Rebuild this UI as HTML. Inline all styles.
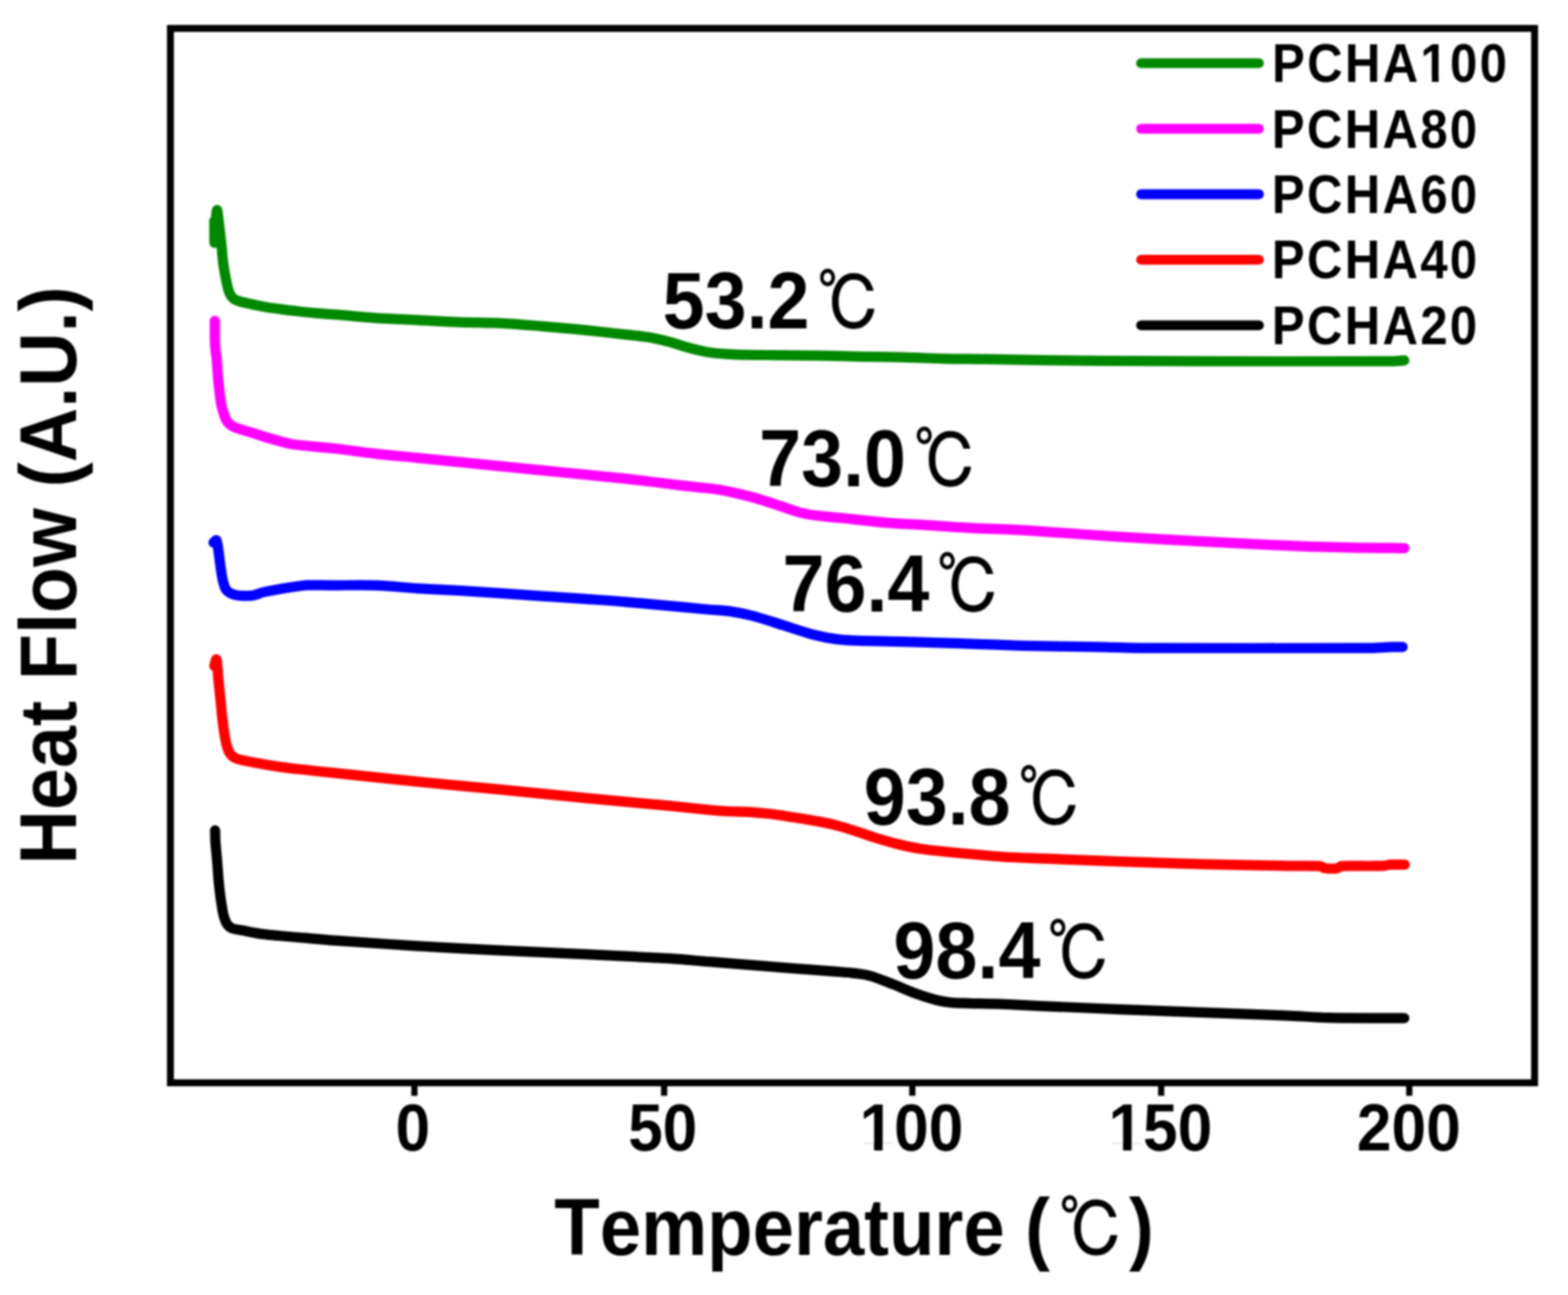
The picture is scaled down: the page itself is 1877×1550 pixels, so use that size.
<!DOCTYPE html>
<html lang="en">
<head>
<meta charset="utf-8">
<title>Heat Flow (A.U.) vs Temperature (℃)</title>
<style>
html,body{margin:0;padding:0;background:#fff;}
body{width:1877px;height:1550px;overflow:hidden;}
svg{display:block;filter:blur(0.8px);}
text{font-family:"Liberation Sans","Noto Sans CJK KR",sans-serif;font-weight:700;fill:#000;font-kerning:none;}
.c{font-family:"IPAGothic","Noto Sans CJK JP",sans-serif;font-weight:400;stroke:#000;stroke-width:1.1px;stroke-linejoin:round;}
</style>
</head>
<body>
<svg width="1877" height="1550" viewBox="0 0 1877 1550">
<rect x="0" y="0" width="1877" height="1550" fill="#fff"/>
<g id="curves">
<path d="M257.5 993.9 C257.6 996.2 257.5 1002.2 257.9 1007.8 C258.3 1013.7 259.2 1022.0 259.8 1029.1 C260.4 1036.2 260.9 1044.2 261.4 1050.4 C261.9 1056.6 262.4 1061.1 263.0 1066.4 C263.6 1071.7 264.4 1077.4 265.2 1082.4 C266.0 1087.4 266.7 1092.3 267.8 1096.2 C268.9 1100.1 269.9 1103.3 271.6 1105.8 C273.3 1108.3 274.8 1109.9 277.9 1111.1 C281.6 1112.5 287.7 1113.1 293.9 1114.3 C300.1 1115.5 308.1 1117.1 315.2 1118.1 C322.3 1119.1 328.0 1119.4 336.6 1120.2 C345.5 1121.0 357.9 1122.0 368.5 1122.9 C379.1 1123.8 387.4 1124.7 400.0 1125.6 C421.9 1127.2 466.8 1130.3 500.2 1132.3 C533.6 1134.3 566.9 1136.0 600.3 1137.6 C633.7 1139.2 667.1 1140.5 700.5 1142.1 C733.9 1143.7 775.7 1145.7 800.6 1147.2 C820.4 1148.4 833.4 1149.9 850.0 1151.2 C866.6 1152.5 883.3 1153.9 900.0 1155.2 C916.7 1156.5 933.5 1157.8 950.2 1159.1 C966.9 1160.4 987.7 1161.8 1000.2 1162.8 C1010.3 1163.6 1018.1 1164.1 1025.3 1165.1 C1032.5 1166.0 1036.3 1166.4 1043.3 1168.5 C1050.7 1170.7 1061.0 1175.0 1069.9 1178.4 C1078.8 1181.9 1087.7 1186.0 1096.6 1189.2 C1105.5 1192.4 1116.0 1195.7 1123.2 1197.5 C1129.8 1199.2 1133.9 1199.5 1140.0 1200.1 C1146.1 1200.6 1152.0 1200.6 1160.0 1200.8 C1170.1 1201.1 1185.4 1201.2 1200.5 1201.8 C1215.6 1202.4 1230.6 1203.4 1250.6 1204.3 C1273.9 1205.3 1308.6 1206.8 1340.2 1208.1 C1371.8 1209.4 1406.9 1210.7 1440.3 1211.9 C1473.7 1213.2 1515.5 1214.6 1540.5 1215.6 C1560.5 1216.4 1570.5 1217.7 1590.5 1218.1 C1613.9 1218.6 1665.9 1218.5 1681.0 1218.6" stroke="#000" stroke-width="12.2" fill="none" stroke-linecap="round" stroke-linejoin="round"/>
<path d="M256.6 797.1 C257.1 795.9 258.5 787.0 259.3 789.7 C260.1 792.4 260.7 805.7 261.4 813.1 C262.1 820.5 262.9 827.3 263.6 834.4 C264.3 841.5 264.9 848.6 265.7 855.7 C266.5 862.8 267.4 870.9 268.4 877.1 C269.4 883.3 270.4 888.8 271.6 893.0 C272.8 897.0 273.9 900.1 275.8 902.6 C277.8 905.1 279.8 906.8 283.3 908.0 C288.1 909.7 296.0 911.2 304.6 912.8 C313.5 914.5 326.0 916.6 336.6 918.1 C347.2 919.6 357.9 920.6 368.5 921.8 C379.1 923.0 387.4 923.8 400.0 925.1 C421.9 927.4 466.8 932.3 500.2 935.6 C533.6 938.9 566.9 941.9 600.3 945.1 C633.7 948.4 667.1 951.9 700.5 955.1 C733.9 958.3 775.7 962.0 800.6 964.4 C820.4 966.3 838.4 968.4 850.0 969.5 C858.0 970.3 862.0 970.6 870.0 971.0 C878.3 971.4 890.8 971.5 900.0 972.1 C909.2 972.7 916.6 973.5 925.0 974.5 C933.4 975.5 941.8 977.0 950.2 978.3 C958.6 979.6 966.9 980.8 975.2 982.4 C983.5 984.0 991.9 985.6 1000.2 987.7 C1008.6 989.8 1016.9 992.5 1025.3 995.1 C1033.6 997.7 1041.9 1000.9 1050.3 1003.5 C1058.7 1006.1 1067.1 1008.5 1075.4 1010.5 C1083.8 1012.5 1090.3 1014.2 1100.4 1015.7 C1112.9 1017.5 1133.8 1019.7 1150.5 1021.3 C1167.2 1022.9 1183.8 1024.4 1200.5 1025.5 C1217.2 1026.6 1230.6 1026.9 1250.6 1027.7 C1273.9 1028.6 1308.6 1030.0 1340.2 1031.1 C1371.8 1032.2 1406.9 1033.5 1440.3 1034.4 C1473.7 1035.3 1517.2 1035.9 1540.5 1036.3 C1556.3 1036.6 1572.3 1036.2 1580.0 1036.7 C1582.8 1036.9 1583.7 1038.9 1586.5 1039.3 C1589.9 1039.7 1597.2 1039.8 1600.5 1039.3 C1602.9 1039.0 1603.6 1036.8 1606.0 1036.6 C1612.6 1036.1 1631.3 1036.6 1640.0 1036.5 C1647.2 1036.4 1654.0 1036.4 1658.0 1036.1 C1660.4 1035.9 1661.6 1035.0 1664.0 1034.9 C1667.9 1034.7 1678.6 1034.9 1681.5 1034.9" stroke="#ff0000" stroke-width="12.2" fill="none" stroke-linecap="round" stroke-linejoin="round"/>
<path d="M255.6 649.3 C256.2 648.9 258.6 645.5 259.3 647.1 C260.4 649.4 261.2 657.8 262.0 663.1 C262.8 668.4 263.3 673.8 264.1 679.1 C264.9 684.4 265.7 690.7 266.8 695.1 C267.9 699.5 269.0 703.2 270.5 705.7 C271.9 708.0 273.3 708.8 275.8 710.0 C278.3 711.2 281.4 712.3 285.4 712.7 C289.8 713.2 297.5 713.3 302.5 712.7 C307.5 712.1 310.0 710.1 315.2 708.9 C320.9 707.6 329.5 705.9 336.6 704.7 C343.7 703.5 352.6 702.2 357.9 701.5 C362.1 700.9 364.2 700.5 368.5 700.4 C375.5 700.2 387.4 700.6 400.0 700.6 C413.6 700.6 433.3 700.0 450.0 700.6 C466.7 701.2 483.5 703.2 500.2 704.3 C516.9 705.3 533.5 705.9 550.2 706.9 C566.9 707.9 583.6 709.0 600.3 710.1 C617.0 711.2 633.7 712.5 650.4 713.6 C667.1 714.7 683.8 715.7 700.5 716.9 C717.2 718.1 733.8 719.2 750.5 720.6 C767.2 722.0 784.0 723.6 800.6 725.1 C817.2 726.6 837.6 728.6 850.0 729.7 C860.0 730.6 866.7 730.7 875.0 731.9 C883.3 733.1 891.6 734.8 900.0 736.9 C908.4 739.0 916.7 741.7 925.1 744.3 C933.5 746.9 941.9 749.9 950.2 752.5 C958.6 755.1 966.9 757.9 975.2 760.0 C983.5 762.1 992.4 763.8 1000.2 764.9 C1008.0 766.0 1013.6 766.3 1022.0 766.7 C1030.3 767.1 1039.0 767.0 1050.3 767.3 C1063.4 767.6 1083.7 768.1 1100.4 768.6 C1117.1 769.1 1130.5 769.4 1150.5 770.1 C1171.4 770.8 1198.2 772.2 1225.6 772.9 C1253.0 773.6 1291.8 773.9 1315.0 774.4 C1335.0 774.8 1345.0 775.5 1365.0 775.6 C1419.3 775.8 1590.5 775.8 1640.6 775.6 C1650.6 775.6 1659.2 774.6 1665.6 774.4 C1671.0 774.2 1676.8 774.4 1679.0 774.4" stroke="#0000ff" stroke-width="12.2" fill="none" stroke-linecap="round" stroke-linejoin="round"/>
<path d="M257.2 384.1 C257.2 389.0 257.1 405.9 257.5 413.5 C257.8 419.9 258.7 423.2 259.3 429.4 C259.9 435.6 260.4 444.5 260.9 450.7 C261.4 456.9 261.9 461.4 262.5 466.7 C263.1 472.0 263.8 478.2 264.6 482.7 C265.4 487.0 266.2 490.0 267.3 493.4 C268.4 496.8 269.4 500.4 271.0 503.0 C272.6 505.6 274.5 507.6 276.9 509.3 C279.3 511.0 281.9 511.9 285.4 513.1 C290.0 514.7 297.9 516.8 304.6 518.9 C311.4 521.0 318.3 523.4 325.9 525.5 C333.5 527.6 340.1 530.3 350.0 531.8 C362.4 533.7 383.5 534.9 400.2 536.8 C416.9 538.7 433.5 541.2 450.2 543.1 C466.9 545.0 483.6 546.4 500.3 548.1 C517.0 549.8 533.7 551.4 550.4 553.1 C567.1 554.8 583.8 556.4 600.5 558.1 C617.2 559.8 633.8 561.4 650.5 563.1 C667.2 564.8 682.4 566.2 700.6 568.1 C718.9 570.0 741.8 572.2 760.0 574.3 C778.2 576.3 797.5 578.9 810.0 580.4 C820.0 581.6 826.6 582.1 835.0 583.1 C843.4 584.1 851.8 584.7 860.2 586.1 C868.6 587.5 876.9 589.3 885.2 591.3 C893.5 593.2 901.9 595.3 910.2 597.8 C918.6 600.3 926.9 603.4 935.3 606.1 C943.6 608.8 951.9 612.1 960.3 614.1 C968.6 616.1 977.0 616.9 985.4 617.9 C993.8 618.9 1000.4 619.3 1010.4 620.3 C1022.9 621.6 1043.8 624.2 1060.5 625.6 C1077.2 627.0 1093.8 627.6 1110.5 628.6 C1127.2 629.6 1140.7 630.9 1160.6 631.9 C1180.5 632.9 1202.3 633.2 1230.0 634.8 C1258.3 636.5 1296.8 639.8 1330.2 641.9 C1363.6 644.0 1396.9 645.8 1430.3 647.6 C1463.7 649.4 1501.3 651.4 1530.5 652.6 C1559.7 653.9 1580.5 654.5 1605.6 655.1 C1630.7 655.7 1668.4 655.9 1681.0 656.1" stroke="#ff00ff" stroke-width="12.2" fill="none" stroke-linecap="round" stroke-linejoin="round"/>
<path d="M256.5 264.5 C256.6 268.8 256.5 290.8 256.8 290.5 C257.1 290.2 258.0 269.0 258.5 262.5 C258.9 258.1 259.3 250.2 260.0 251.5 C260.7 252.8 261.6 263.3 262.5 270.5 C263.4 277.7 264.4 287.0 265.2 294.5 C266.0 302.0 266.3 308.6 267.3 315.7 C268.3 322.8 269.8 331.1 271.0 337.0 C272.2 342.6 273.1 347.3 274.8 350.9 C276.4 354.4 277.8 356.5 281.0 358.4 C284.2 360.3 288.7 361.2 294.0 362.5 C299.7 363.9 308.1 365.6 315.2 366.9 C322.3 368.2 329.5 369.1 336.6 370.1 C343.7 371.1 350.8 371.9 357.9 372.7 C365.0 373.5 372.2 374.3 379.2 374.9 C386.2 375.5 391.7 375.6 400.0 376.3 C411.8 377.2 433.3 379.5 450.0 380.6 C466.7 381.7 483.4 382.3 500.1 383.1 C516.8 383.9 533.5 385.0 550.2 385.6 C566.9 386.2 583.6 386.0 600.3 386.8 C617.0 387.6 633.7 389.2 650.4 390.6 C667.1 392.0 683.7 393.4 700.4 395.1 C717.1 396.8 738.0 399.2 750.5 400.6 C760.5 401.7 767.2 402.2 775.6 403.6 C784.0 405.0 792.3 406.9 800.6 409.0 C808.9 411.1 817.2 414.3 825.6 416.5 C834.0 418.7 841.6 420.7 850.7 422.0 C859.8 423.3 868.4 423.8 880.2 424.3 C893.5 424.8 913.5 424.9 930.2 425.1 C946.9 425.3 963.6 425.3 980.3 425.6 C997.0 425.9 1013.7 426.5 1030.4 426.8 C1047.1 427.1 1063.7 427.2 1080.4 427.6 C1097.1 428.0 1113.8 429.0 1130.5 429.4 C1147.2 429.8 1160.7 429.6 1180.6 429.9 C1200.5 430.2 1227.6 430.8 1250.0 431.1 C1272.4 431.4 1289.0 431.7 1315.0 431.9 C1346.7 432.1 1390.0 432.3 1440.0 432.4 C1498.4 432.5 1625.4 432.6 1665.6 432.4 C1671.8 432.4 1678.4 431.6 1681.0 431.4" stroke="#008800" stroke-width="12.2" fill="none" stroke-linecap="round" stroke-linejoin="round"/>
</g>
<g id="legend">
<line x1="1366" y1="75.7" x2="1507" y2="75.7" stroke="#008800" stroke-width="11.8" stroke-linecap="round"/>
<line x1="1366" y1="154.1" x2="1507" y2="154.1" stroke="#ff00ff" stroke-width="11.8" stroke-linecap="round"/>
<line x1="1366" y1="232.5" x2="1507" y2="232.5" stroke="#0000ff" stroke-width="11.8" stroke-linecap="round"/>
<line x1="1366" y1="310.9" x2="1507" y2="310.9" stroke="#ff0000" stroke-width="11.8" stroke-linecap="round"/>
<line x1="1366" y1="389.3" x2="1507" y2="389.3" stroke="#000" stroke-width="11.8" stroke-linecap="round"/>
</g>
<rect x="204" y="34" width="1633" height="1262" fill="none" stroke="#000" stroke-width="8.3"/>
<g id="ticks">
<line x1="496.1" y1="1296" x2="496.1" y2="1311.6" stroke="#000" stroke-width="7.4" stroke-linecap="butt"/>
<line x1="795" y1="1296" x2="795" y2="1311.6" stroke="#000" stroke-width="7.4" stroke-linecap="butt"/>
<line x1="1092.1" y1="1296" x2="1092.1" y2="1311.6" stroke="#000" stroke-width="7.4" stroke-linecap="butt"/>
<line x1="1390" y1="1296" x2="1390" y2="1311.6" stroke="#000" stroke-width="7.4" stroke-linecap="butt"/>
<line x1="1687" y1="1296" x2="1687" y2="1311.6" stroke="#000" stroke-width="7.4" stroke-linecap="butt"/>
</g>
<g id="labels">
<g transform="translate(473.52 1377.2) scale(0.9554 1.0238)"><text font-size="78">0</text></g>
<g transform="translate(751.92 1377.2) scale(0.9554 1.0238)"><text font-size="78">50</text></g>
<g transform="translate(1028.88 1377.2) scale(0.9554 1.0238)"><text font-size="78">100</text><rect x="3.71" y="-8.36" width="14.49" height="9.56" fill="#fff"/><rect x="28.91" y="-8.36" width="13.50" height="9.56" fill="#fff"/></g>
<g transform="translate(1326.93 1377.2) scale(0.9554 1.0238)"><text font-size="78">150</text><rect x="3.71" y="-8.36" width="14.49" height="9.56" fill="#fff"/><rect x="28.91" y="-8.36" width="13.50" height="9.56" fill="#fff"/></g>
<g transform="translate(1624.36 1377.2) scale(0.9554 1.0238)"><text font-size="78">200</text></g>
<g transform="translate(1522.79 98.14) scale(0.9404 1.0497)"><text font-size="62.5" letter-spacing="2.938">PCHA100</text><rect x="191.58" y="-6.78" width="11.85" height="7.98" fill="#fff"/><rect x="212.01" y="-6.78" width="11.06" height="7.98" fill="#fff"/></g>
<g transform="translate(1522.6 176.54) scale(0.9404 1.0497)"><text font-size="62.5" letter-spacing="2.938">PCHA80</text></g>
<g transform="translate(1522.6 254.94) scale(0.9404 1.0497)"><text font-size="62.5" letter-spacing="2.938">PCHA60</text></g>
<g transform="translate(1522.6 333.34) scale(0.9404 1.0497)"><text font-size="62.5" letter-spacing="2.938">PCHA40</text></g>
<g transform="translate(1522.6 411.74) scale(0.9404 1.0497)"><text font-size="62.5" letter-spacing="2.938">PCHA20</text></g>
<g transform="translate(793.18 392.74) scale(0.982 1.0497)"><text font-size="92">53.2</text></g>
<g transform="translate(908.73 581.74) scale(0.982 1.0497)"><text font-size="92">73.0</text></g>
<g transform="translate(936.69 731.8) scale(0.982 1.0497)"><text font-size="92">76.4</text></g>
<g transform="translate(1034.01 987.14) scale(0.982 1.0497)"><text font-size="92">93.8</text></g>
<g transform="translate(1069.58 1171.2) scale(0.982 1.0497)"><text font-size="92">98.4</text></g>
<g transform="translate(978.07 395.95) scale(0.831 0.9669)"><text font-size="92"><tspan class="c">℃</tspan></text></g>
<g transform="translate(1093.67 584.95) scale(0.831 0.9669)"><text font-size="92"><tspan class="c">℃</tspan></text></g>
<g transform="translate(1121.27 734.95) scale(0.831 0.9669)"><text font-size="92"><tspan class="c">℃</tspan></text></g>
<g transform="translate(1218.67 990.35) scale(0.831 0.9669)"><text font-size="92"><tspan class="c">℃</tspan></text></g>
<g transform="translate(1253.67 1174.35) scale(0.831 0.9669)"><text font-size="92"><tspan class="c">℃</tspan></text></g>
<g transform="translate(663.6 1501.6) scale(0.9674 1.047)"><text font-size="92">Temperature (</text></g>
<g transform="translate(1267.4 1504.56) scale(0.8464 0.9723)"><text font-size="92"><tspan class="c">℃</tspan></text></g>
<g transform="translate(1351.52 1501.6) scale(0.9674 1.047)"><text font-size="92">)</text></g>
<g transform="translate(91.4 1034.69) rotate(-90) scale(0.9814 1.045)"><text font-size="92">Heat Flow (A.U.)</text></g>
</g>
</svg>
</body>
</html>
